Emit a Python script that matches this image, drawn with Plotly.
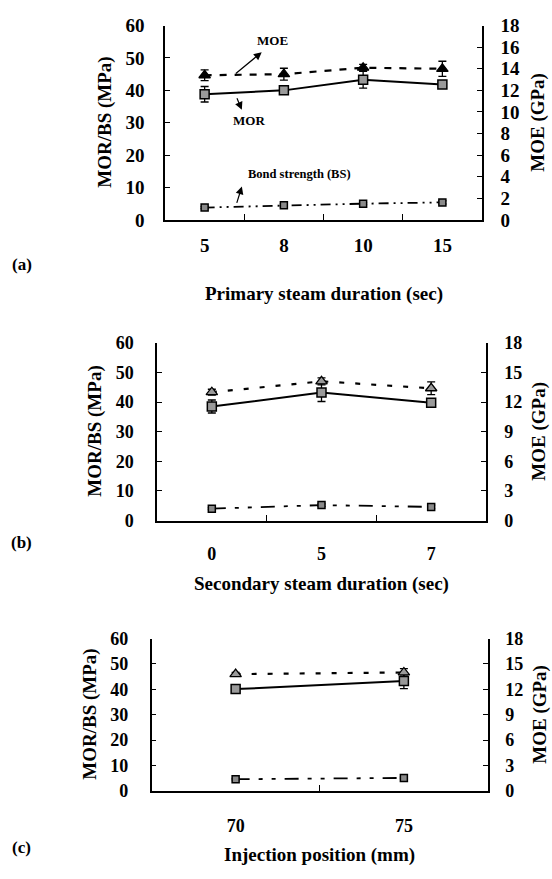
import plotly.graph_objects as go

# ---------------- data ----------------
cat_a = ["5", "8", "10", "15"]
mor_a = [38.8, 40.0, 43.3, 41.8]
mor_a_err = [2.4, 0.7, 2.6, 1.0]
moe_a = [13.4, 13.5, 14.1, 14.0]
moe_a_err = [0.5, 0.55, 0.3, 0.7]
bs_a = [3.8, 4.5, 5.0, 5.4]
bs_a_err = [0.3, 0.6, 0.3, 0.5]

cat_b = ["0", "5", "7"]
mor_b = [38.5, 43.2, 39.8]
mor_b_err = [2.2, 3.0, 0.7]
moe_b = [13.0, 14.1, 13.4]
moe_b_err = [0.3, 0.35, 0.65]
bs_b = [4.0, 5.2, 4.6]
bs_b_err = [0.3, 0.4, 0.6]

cat_c = ["70", "75"]
mor_c = [40.1, 43.3]
mor_c_err = [0.6, 3.0]
moe_c = [13.8, 14.0]
moe_c_err = [0.2, 0.45]
bs_c = [4.6, 5.1]
bs_c_err = [0.3, 0.3]

left_ticks = [0, 10, 20, 30, 40, 50, 60]
right_ticks_a = [0, 2, 4, 6, 8, 10, 12, 14, 16, 18]
right_ticks_bc = [0, 3, 6, 9, 12, 15, 18]

# ---------------- layout helpers ----------------
W, H = 552, 879
FONT = "Liberation Serif"

def xd(p):
    return p / W

def yd(p):
    return 1 - p / H

panels = [
    dict(cats=cat_a, mor=mor_a, mor_e=mor_a_err, moe=moe_a, moe_e=moe_a_err, bs=bs_a, bs_e=bs_a_err,
         x0=165, x1=482, yt=16, yb=215, rt=right_ticks_a, fs=19, moe_dash="7px,8px",
         bs_dash="10px,5px,2px,5px,2px,5px", moe_fill="black", xs=8, ls=15, rs=13,
         label="(a)", lab_y=261, title="Primary steam duration (sec)", title_y=291,
         ytl_x=105, ytr_x=538),
    dict(cats=cat_b, mor=mor_b, mor_e=mor_b_err, moe=moe_b, moe_e=moe_b_err, bs=bs_b, bs_e=bs_b_err,
         x0=157, x1=486, yt=341, yb=523, rt=right_ticks_bc, fs=18, moe_dash="5px,11px",
         bs_dash="14px,9px,4px,9px,4px,9px", moe_fill="#9a9a9a", xs=16, ls=18, rs=13,
         label="(b)", lab_y=546, title="Secondary steam duration (sec)", title_y=588,
         ytl_x=95, ytr_x=539),
    dict(cats=cat_c, mor=mor_c, mor_e=mor_c_err, moe=moe_c, moe_e=moe_c_err, bs=bs_c, bs_e=bs_c_err,
         x0=151.5, x1=488, yt=644, yb=800, rt=right_ticks_bc, fs=18, moe_dash="5px,11px",
         bs_dash="14px,9px,4px,9px,4px,9px", moe_fill="#9a9a9a", xs=18, ls=18, rs=12,
         label="(c)", lab_y=858, title="Injection position (mm)", title_y=866,
         ytl_x=90, ytr_x=540),
]

fig = go.Figure()
annotations = []
layout = {}

def err(arr):
    return dict(type="data", array=arr, visible=True, color="black", thickness=1.3, width=4)

for i, p in enumerate(panels):
    n = i + 1
    xa = f"x{'' if n == 1 else n}"
    yl_num = 2 * i + 1
    yr_num = 2 * i + 2
    yl = f"y{'' if yl_num == 1 else yl_num}"
    yr = f"y{yr_num}"
    xkey = f"xaxis{'' if n == 1 else n}"
    ylkey = f"yaxis{'' if yl_num == 1 else yl_num}"
    yrkey = f"yaxis{yr_num}"

    fig.add_trace(go.Scatter(
        x=p["cats"], y=p["mor"], xaxis=xa, yaxis=yl, mode="lines+markers",
        line=dict(color="black", width=2),
        marker=dict(symbol="square", size=9, color="#9a9a9a", line=dict(color="black", width=1.5)),
        error_y=err(p["mor_e"]), showlegend=False))
    fig.add_trace(go.Scatter(
        x=p["cats"], y=p["bs"], xaxis=xa, yaxis=yl, mode="lines+markers",
        line=dict(color="black", width=1.8, dash=p["bs_dash"]),
        marker=dict(symbol="square", size=7, color="#8a8a8a", line=dict(color="black", width=1.5)),
        error_y=err(p["bs_e"]), showlegend=False))
    fig.add_trace(go.Scatter(
        x=p["cats"], y=p["moe"], xaxis=xa, yaxis=yr, mode="lines+markers",
        line=dict(color="black", width=2.2, dash=p["moe_dash"]),
        marker=dict(symbol="triangle-up", size=10, color=p["moe_fill"], line=dict(color="black", width=1.3)),
        error_y=err(p["moe_e"]), showlegend=False))

    tickfont = dict(family=FONT, size=p["fs"], color="black", weight="bold")
    ncat = len(p["cats"])
    layout[xkey] = dict(
        domain=[xd(p["x0"]), xd(p["x1"])], anchor=yl, type="category",
        range=[-0.5, ncat - 0.5], tickson="boundaries", ticks="inside", ticklen=6,
        tickcolor="black", tickwidth=1.3, showline=True, linecolor="black", linewidth=1.5,
        showgrid=False, zeroline=False, tickfont=tickfont, ticklabelstandoff=p["xs"])
    layout[ylkey] = dict(
        domain=[yd(p["yb"]), yd(p["yt"])], anchor=xa, range=[0, 60], tickvals=left_ticks,
        ticks="inside", ticklen=5, tickcolor="black", tickwidth=1.3, showline=True,
        linecolor="black", linewidth=1.5, showgrid=False, zeroline=False, tickfont=tickfont,
        ticklabelstandoff=p["ls"])
    layout[yrkey] = dict(
        domain=[yd(p["yb"]), yd(p["yt"])], anchor=xa, overlaying=yl, side="right",
        range=[0, 18], tickvals=p["rt"], ticks="inside", ticklen=5, tickcolor="black",
        tickwidth=1.3, showline=True, linecolor="black", linewidth=1.5, showgrid=False,
        zeroline=False, tickfont=tickfont, ticklabelstandoff=p["rs"])

    tf = dict(family=FONT, size=19, color="black", weight="bold")
    common = dict(xref="paper", yref="paper", showarrow=False, xanchor="center", yanchor="middle")
    annotations.append(dict(text=p["label"], x=xd(21.7), y=yd(p["lab_y"]),
                            font=dict(family=FONT, size=17, color="black", weight="bold"), **common))
    annotations.append(dict(text=p["title"], x=xd((p["x0"] + p["x1"]) / 2), y=yd(p["title_y"]),
                            font=tf, **common))
    annotations.append(dict(text="MOR/BS (MPa)", x=xd(p["ytl_x"]), y=yd((p["yt"] + p["yb"]) / 2),
                            textangle=-90, font=tf, **common))
    annotations.append(dict(text="MOE (GPa)", x=xd(p["ytr_x"]), y=yd((p["yt"] + p["yb"]) / 2),
                            textangle=-90, font=tf, **common))

# in-plot labels with arrows for panel (a)
lab_font = dict(family=FONT, size=13, color="black", weight="bold")
annotations += [
    dict(text="MOE", x=0.86, y=55.3, xref="x", yref="y", showarrow=False, font=lab_font),
    dict(text="MOR", x=0.56, y=30.8, xref="x", yref="y", showarrow=False, font=lab_font),
    dict(text="Bond strength (BS)", x=1.2, y=14.3, xref="x", yref="y", showarrow=False,
         font=dict(family=FONT, size=12.5, color="black", weight="bold")),
    dict(text="", x=0.72, y=51.8, ax=0.375, ay=44.8, xref="x", yref="y", axref="x", ayref="y",
         showarrow=True, arrowhead=2, arrowsize=1.3, arrowwidth=1.2, arrowcolor="black"),
    dict(text="", x=0.47, y=34.0, ax=0.4, ay=38.0, xref="x", yref="y", axref="x", ayref="y",
         showarrow=True, arrowhead=2, arrowsize=1.3, arrowwidth=1.2, arrowcolor="black"),
    dict(text="", x=0.47, y=10.3, ax=0.4, ay=4.8, xref="x", yref="y", axref="x", ayref="y",
         showarrow=True, arrowhead=2, arrowsize=1.3, arrowwidth=1.2, arrowcolor="black"),
]

fig.update_layout(
    width=W, height=H, margin=dict(l=0, r=0, t=0, b=0), autosize=False,
    paper_bgcolor="white", plot_bgcolor="white", showlegend=False,
    annotations=annotations, **layout)

fig.write_html("out.html")
